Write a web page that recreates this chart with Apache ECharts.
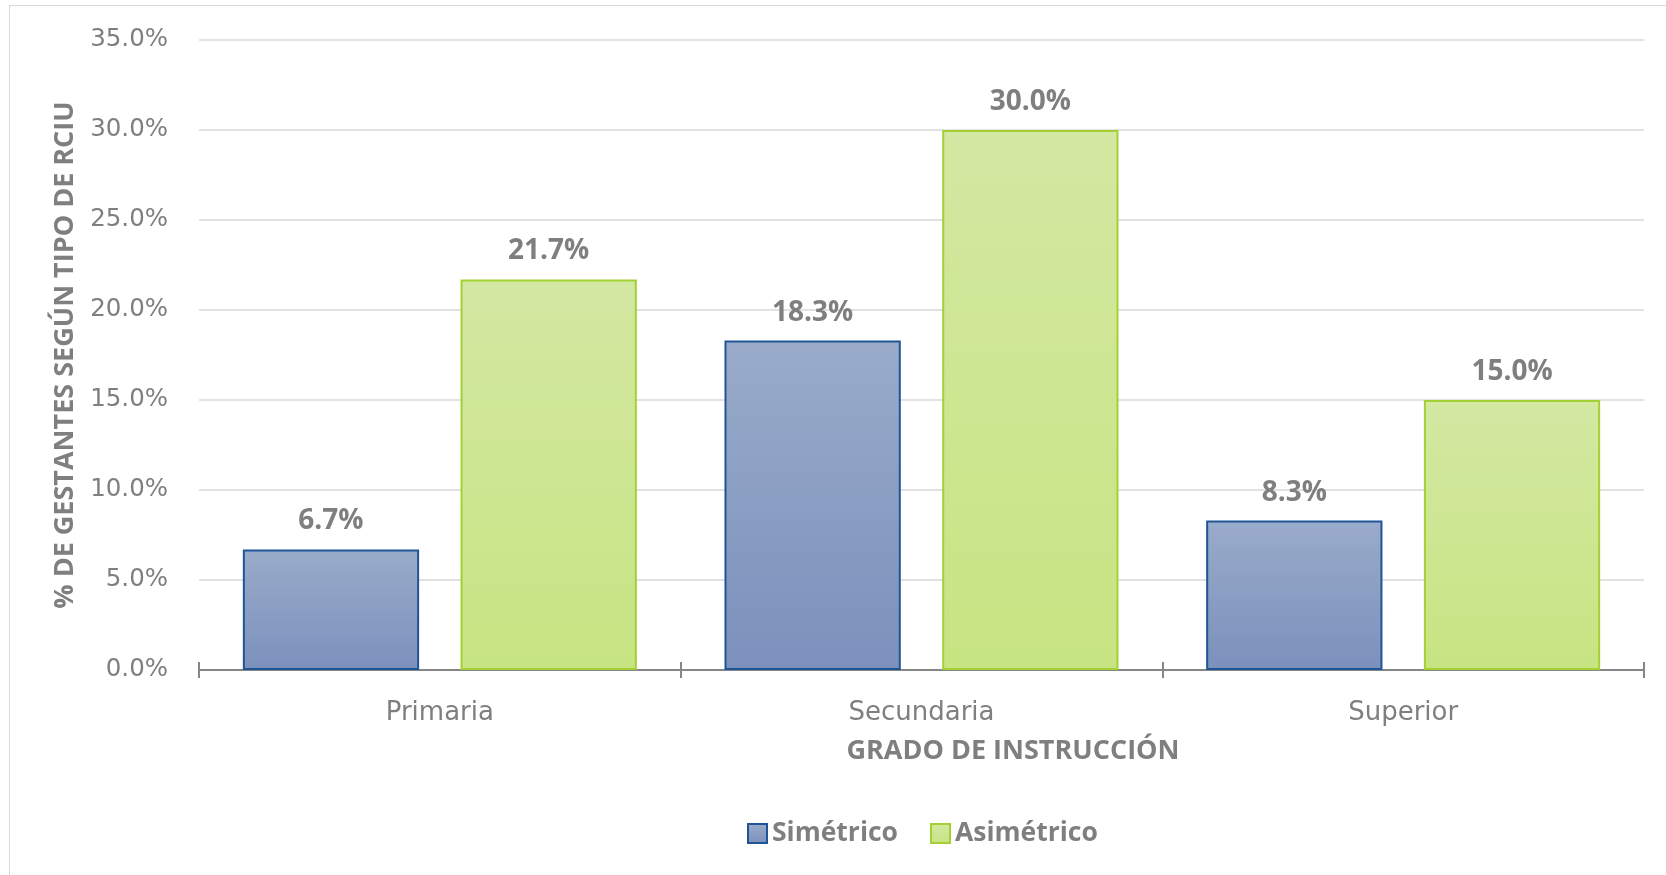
<!DOCTYPE html>
<html>
<head>
<meta charset="utf-8">
<script src="https://cdn.jsdelivr.net/npm/echarts@6/dist/echarts.min.js"></script>
<style>
  html, body { margin: 0; padding: 0; background: #ffffff; }
  #frame { position: absolute; left: 9px; top: 5px; width: 1700px; height: 900px; border: 1px solid #d9d9d9; box-sizing: border-box; }
  #chart { position: absolute; left: 0; top: 0; width: 1666px; height: 875px; }
</style>
</head>
<body>
<div id="frame"></div>
<div id="chart"></div>
<script>
// Education level of pregnant women by IUGR type (percent)
const categories = ['Primaria', 'Secundaria', 'Superior'];
const simetrico = [6.7, 18.3, 8.3];
const asimetrico = [21.7, 30.0, 15.0];
const seriesNames = ['Simétrico', 'Asimétrico'];
const yTicks = { min: 0, max: 35, interval: 5 };

const gray = '#7f7f7f';
const boldFont = '"Open Sans", Lato, sans-serif';
const tickFont = '"DejaVu Sans", Verdana, sans-serif';

const chart = echarts.init(document.getElementById('chart'), null, { renderer: 'canvas' });

const labelStyle = {
  show: true,
  position: 'top',
  distance: 14,
  color: gray,
  fontFamily: boldFont,
  fontWeight: 'bold',
  fontSize: 28,
  formatter: p => p.value.toFixed(1) + '%'
};

chart.setOption({
  animation: false,
  backgroundColor: 'transparent',
  title: {
    text: 'GRADO DE INSTRUCCIÓN',
    left: 1008,
    top: 733,
    textAlign: 'center',
    textStyle: { color: gray, fontFamily: boldFont, fontWeight: 'bold', fontSize: 27 }
  },
  legend: {
    data: seriesNames,
    left: 742,
    top: 815,
    icon: 'rect',
    itemWidth: 19,
    itemHeight: 19,
    itemGap: 32,
    textStyle: { color: gray, fontFamily: boldFont, fontWeight: 'bold', fontSize: 26.5 }
  },
  grid: { left: 199, right: 22, top: 40, bottom: 205, containLabel: false },
  xAxis: [
    {
      type: 'category',
      data: categories,
      axisLine: { lineStyle: { color: '#868686', width: 2 } },
      axisTick: { show: true, alignWithLabel: false, length: 8, lineStyle: { color: '#868686', width: 2 } },
      axisLabel: { color: gray, fontFamily: tickFont, fontSize: 26, margin: 30 },
      splitLine: { show: false }
    },
    {
      type: 'category',
      data: categories,
      position: 'bottom',
      axisLine: { show: false },
      axisTick: { show: true, inside: true, length: 8, lineStyle: { color: '#868686', width: 2 } },
      axisLabel: { show: false },
      splitLine: { show: false }
    }
  ],
  yAxis: {
    type: 'value',
    min: yTicks.min,
    max: yTicks.max,
    interval: yTicks.interval,
    name: '% DE GESTANTES SEGÚN TIPO DE RCIU',
    nameLocation: 'middle',
    nameGap: 118,
    nameRotate: 90,
    nameTextStyle: { color: gray, fontFamily: '"Liberation Sans Narrow", "Open Sans", sans-serif', fontWeight: 'bold', fontSize: 27 },
    axisLine: { show: false },
    axisTick: { show: false },
    axisLabel: { color: gray, fontFamily: tickFont, fontSize: 24.5, margin: 31, formatter: v => v.toFixed(1) + '%' },
    splitLine: { lineStyle: { color: '#d9d9d9', width: 1.5 } }
  },
  series: [
    {
      name: seriesNames[0],
      type: 'bar',
      data: simetrico,
      barWidth: '36.6%',
      barGap: '23.5%',
      itemStyle: {
        color: new echarts.graphic.LinearGradient(0, 0, 0, 1, [
          { offset: 0, color: '#9aabca' },
          { offset: 1, color: '#7b91bc' }
        ]),
        borderColor: '#1f5597',
        borderWidth: 2
      },
      label: labelStyle
    },
    {
      name: seriesNames[1],
      type: 'bar',
      data: asimetrico,
      barWidth: '36.6%',
      barGap: '23.5%',
      itemStyle: {
        color: new echarts.graphic.LinearGradient(0, 0, 0, 1, [
          { offset: 0, color: '#d3e8a2' },
          { offset: 1, color: '#c7e482' }
        ]),
        borderColor: '#a3d133',
        borderWidth: 2
      },
      label: labelStyle
    }
  ]
});
</script>
</body>
</html>
